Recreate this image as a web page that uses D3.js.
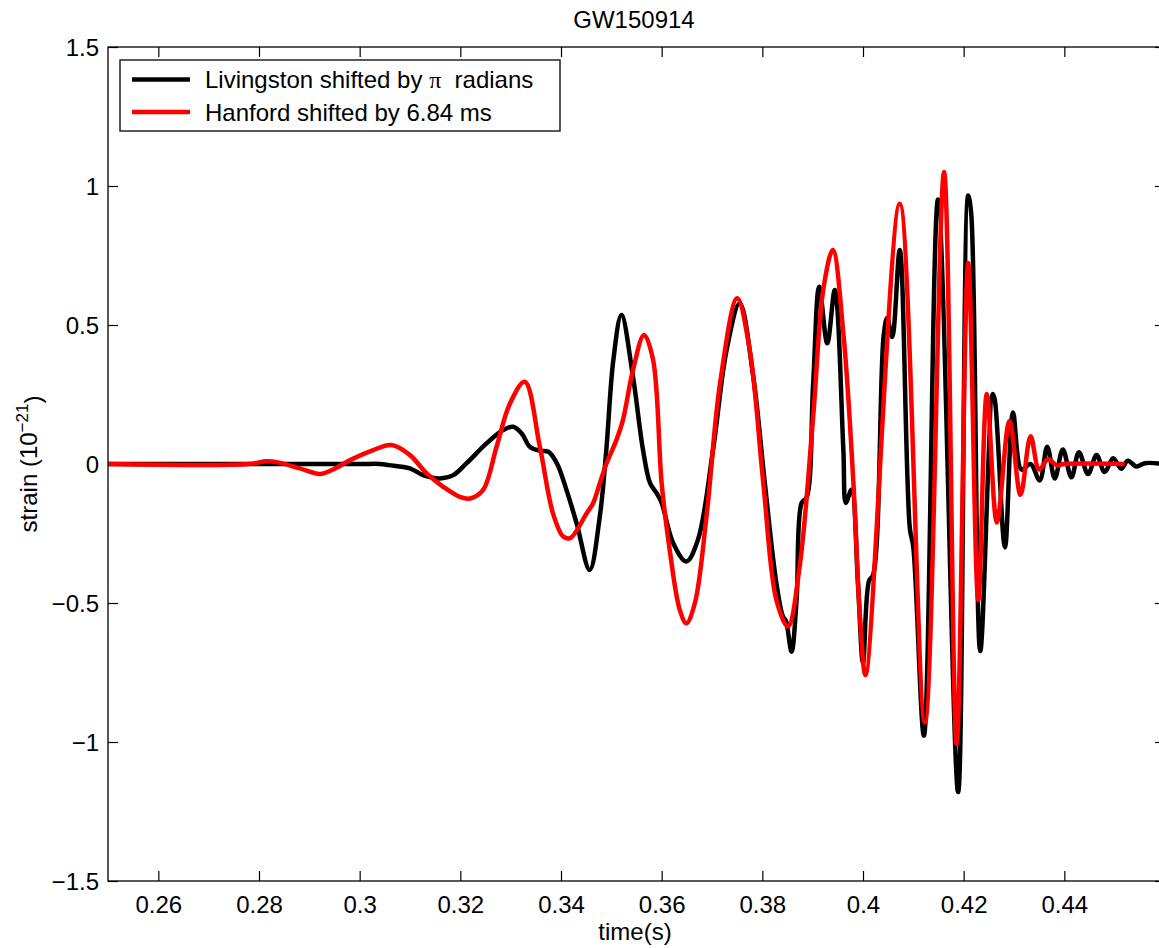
<!DOCTYPE html>
<html>
<head>
<meta charset="utf-8">
<script src="https://cdn.jsdelivr.net/npm/d3@7/dist/d3.min.js"></script>
<style>
  body { margin: 0; background: #fff; }
  svg text { font-family: "Liberation Sans", Helvetica, Arial, sans-serif; fill: #000; }
</style>
</head>
<body>
<div id="chart"></div>
<script>
// Livingston (black) - time in s, strain in 1e-21
var livTime = [0.250, 0.300, 0.304, 0.3058, 0.3100, 0.3126, 0.3159, 0.3186, 0.3212, 0.3252,
  0.3285, 0.3305, 0.3322, 0.3338, 0.3358, 0.3375, 0.3392, 0.3411, 0.3431, 0.3457,
  0.3477, 0.3490, 0.3504, 0.3520, 0.3543, 0.3563, 0.3577, 0.3590, 0.3600, 0.3623,
  0.3649, 0.3672, 0.3702, 0.3729, 0.3755, 0.3782, 0.3805, 0.3828, 0.3841, 0.3847,
  0.3858, 0.3868, 0.3878, 0.3888, 0.3901, 0.3913, 0.3929, 0.3944, 0.3961, 0.3966,
  0.3977, 0.3990, 0.4000, 0.4012, 0.4020, 0.4041, 0.4048, 0.4058, 0.4073, 0.4093,
  0.4100, 0.4121, 0.4149, 0.4189, 0.4209, 0.4215, 0.4233, 0.4258, 0.4262, 0.4282,
  0.4298, 0.4315, 0.4333, 0.4351, 0.4366, 0.4381, 0.4397, 0.4414, 0.4429, 0.4447,
  0.4464, 0.4480, 0.4497, 0.4513, 0.4526, 0.4543, 0.4560, 0.4600];
var livStrain = [0, 0, 0, -0.004, -0.016, -0.040, -0.052, -0.040, 0.002, 0.074,
  0.122, 0.134, 0.110, 0.062, 0.048, 0.044, 0.002, -0.094, -0.213, -0.381,
  -0.19, 0.05, 0.374, 0.536, 0.314, 0.05, -0.069, -0.105, -0.14, -0.285,
  -0.351, -0.273, 0.05, 0.41, 0.578, 0.314, -0.07, -0.43, -0.549, -0.565,
  -0.675, -0.49, -0.14, -0.12, 0.29, 0.638, 0.434, 0.626, 0.05, -0.14,
  -0.093, -0.43, -0.716, -0.42, -0.40, 0.46, 0.525, 0.457, 0.77, -0.23,
  -0.30, -0.977, 0.951, -1.18, 0.966, 0.90, -0.673, 0.252, 0.23, -0.30,
  0.185, -0.02, 0.0, -0.059, 0.062, -0.052, 0.052, -0.048, 0.042, -0.036,
  0.032, -0.029, 0.021, -0.017, 0.012, -0.009, 0.003, 0];

// Hanford (red)
var hanTime = [0.250, 0.278, 0.2815, 0.2840, 0.2881, 0.2921, 0.2947, 0.2981, 0.3027, 0.3063,
  0.3100, 0.3133, 0.3166, 0.3199, 0.3219, 0.3245, 0.3272, 0.3298, 0.3328, 0.3358,
  0.3384, 0.3404, 0.3418, 0.3451, 0.3464, 0.3477, 0.3490, 0.3510, 0.3523, 0.3543,
  0.3565, 0.3583, 0.3600, 0.3616, 0.3636, 0.3649, 0.3666, 0.3689, 0.3716, 0.3750,
  0.3775, 0.3802, 0.3828, 0.3851, 0.3874, 0.3901, 0.3921, 0.3940, 0.3961, 0.3981,
  0.3994, 0.4005, 0.4073, 0.4123, 0.4161, 0.4186, 0.4209, 0.4229, 0.4246, 0.4266,
  0.4291, 0.4313, 0.4333, 0.4350, 0.4368, 0.4385, 0.4400, 0.4520];
var hanStrain = [0, 0, 0.01, 0.005, -0.016, -0.036, -0.02, 0.014, 0.05, 0.068,
  0.032, -0.034, -0.082, -0.118, -0.124, -0.094, 0.062, 0.215, 0.296, 0.062,
  -0.177, -0.26, -0.267, -0.177, -0.14, -0.07, 0.0, 0.086, 0.158, 0.338,
  0.464, 0.374, -0.07, -0.31, -0.525, -0.573, -0.5, -0.19, 0.29, 0.596,
  0.41, -0.07, -0.49, -0.585, -0.37, 0.17, 0.626, 0.77, 0.47, -0.07,
  -0.55, -0.759, 0.936, -0.93, 1.05, -1.007, 0.723, -0.49, 0.252, -0.21,
  0.155, -0.111, 0.10, -0.02, 0.018, -0.005, 0.0, 0.0];

var xTicks = [0.26, 0.28, 0.30, 0.32, 0.34, 0.36, 0.38, 0.40, 0.42, 0.44];
var yTicks = [-1.5, -1, -0.5, 0, 0.5, 1, 1.5];
var seriesNames = ["Livingston shifted by ", "Hanford shifted by 6.84 ms"];
var seriesColors = ["#000000", "#ff0000"];

var width = 1159, height = 948;
var pLeft = 108, pRight = 1165, pTop = 47, pBottom = 881;

var svg = d3.select("#chart").append("svg")
    .attr("width", width)
    .attr("height", height);

var xscale = d3.scaleLinear().domain([0.25, 0.46]).range([pLeft, pRight]);
var yscale = d3.scaleLinear().domain([-1.5, 1.5]).range([pBottom, pTop]);

svg.append("defs").append("clipPath").attr("id", "plotclip")
  .append("rect")
    .attr("x", pLeft).attr("y", pTop)
    .attr("width", pRight - pLeft).attr("height", pBottom - pTop);

var fmt = d3.format("~g");

// axes, ticks inward
var xAxis = d3.axisBottom(xscale).tickValues(xTicks).tickSizeInner(-10).tickSizeOuter(0)
    .tickPadding(15).tickFormat(fmt);
var yAxis = d3.axisLeft(yscale).tickValues(yTicks).tickSizeInner(-10).tickSizeOuter(0)
    .tickPadding(9).tickFormat(fmt);
var xTop = d3.axisTop(xscale).tickValues(xTicks).tickSizeInner(-10).tickSizeOuter(0).tickFormat("");
var yRight = d3.axisRight(yscale).tickValues(yTicks).tickSizeInner(-10).tickSizeOuter(0).tickFormat("");

function styleAxis(g) {
  g.select(".domain").remove();
  g.selectAll(".tick line").attr("stroke", "#000").attr("stroke-width", 1.2);
  g.selectAll(".tick text").style("font-size", "24px").attr("fill", "#000");
}

svg.append("g").attr("transform", "translate(0," + pBottom + ")").call(xAxis).call(styleAxis);
svg.append("g").attr("transform", "translate(" + pLeft + ",0)").call(yAxis).call(styleAxis)
   .selectAll(".tick text").attr("dy", "0.36em");
svg.append("g").attr("transform", "translate(0," + pTop + ")").call(xTop).call(styleAxis);
svg.append("g").attr("transform", "translate(" + pRight + ",0)").call(yRight).call(styleAxis);

// lines
var line = d3.line()
    .x(function(d) { return xscale(d[0]); })
    .y(function(d) { return yscale(d[1]); })
    .curve(d3.curveCatmullRom.alpha(0.5));

var liv = livTime.map(function(t, i) { return [t, livStrain[i]]; });
var han = hanTime.map(function(t, i) { return [t, hanStrain[i]]; });

var plot = svg.append("g").attr("clip-path", "url(#plotclip)");
plot.append("path").datum(liv)
    .attr("d", line).attr("fill", "none")
    .attr("stroke", seriesColors[0]).attr("stroke-width", 4.5)
    .attr("stroke-linejoin", "round");
plot.append("path").datum(han)
    .attr("d", line).attr("fill", "none")
    .attr("stroke", seriesColors[1]).attr("stroke-width", 4.5)
    .attr("stroke-linejoin", "round");

// frame
svg.append("rect")
    .attr("x", pLeft).attr("y", pTop)
    .attr("width", pRight - pLeft).attr("height", pBottom - pTop)
    .attr("fill", "none").attr("stroke", "#000").attr("stroke-width", 1.3);

// legend
var legend = svg.append("g");
legend.append("rect")
    .attr("x", 120).attr("y", 60).attr("width", 440).attr("height", 71)
    .attr("fill", "#fff").attr("stroke", "#000").attr("stroke-width", 1.3);

[0, 1].forEach(function(i) {
  var ly = 79.5 + i * 32.5;
  legend.append("line")
      .attr("x1", 132).attr("x2", 190).attr("y1", ly).attr("y2", ly)
      .attr("stroke", seriesColors[i]).attr("stroke-width", 4.5);
  var t = legend.append("text")
      .attr("x", 205).attr("y", ly + 8.5)
      .style("font-size", "24px");
  t.append("tspan").text(seriesNames[i]);
  if (i === 0) {
    t.append("tspan").style("font-family", "'Liberation Serif', 'DejaVu Serif', serif").text("\u03c0");
    t.append("tspan").text("\u00a0 radians");
  }
});

// titles
svg.append("text")
    .attr("x", 634).attr("y", 28)
    .attr("text-anchor", "middle")
    .style("font-size", "24px")
    .text("GW150914");

svg.append("text")
    .attr("x", 635).attr("y", 940)
    .attr("text-anchor", "middle")
    .style("font-size", "24px")
    .text("time(s)");

var yl = svg.append("text")
    .attr("transform", "translate(37," + ((pTop + pBottom) / 2) + ") rotate(-90)")
    .attr("text-anchor", "middle")
    .style("font-size", "24px");
yl.append("tspan").text("strain (10");
yl.append("tspan").attr("dy", "-0.55em").style("font-size", "17px").text("\u221221");
yl.append("tspan").attr("dy", "0.55em").text(")");
</script>
</body>
</html>
